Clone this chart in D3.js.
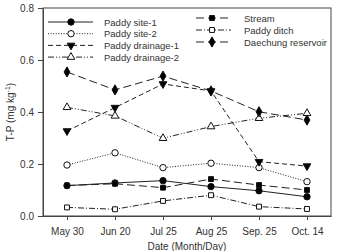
<!DOCTYPE html>
<html>
<head>
<meta charset="utf-8">
<script src="https://cdn.jsdelivr.net/npm/d3@7"></script>
<style>
  body { margin: 0; background: #fff; }
  svg { font-family: "Liberation Sans", Arial, sans-serif; }
</style>
</head>
<body>
<div id="chart"></div>
<script>
// data
var dates = ["May 30", "Jun 20", "Jul 25", "Aug 25", "Sep. 25", "Oct. 14"];
var yTicks = [0.0, 0.2, 0.4, 0.6, 0.8];

var paddySite1 = [0.117, 0.127, 0.136, 0.113, 0.097, 0.074];
var paddySite2 = [0.196, 0.243, 0.186, 0.203, 0.186, 0.132];
var paddyDrainage1 = [0.327, 0.417, 0.508, 0.481, 0.209, 0.192];
var paddyDrainage2 = [0.418, 0.385, 0.299, 0.344, 0.376, 0.395];
var stream = [0.117, 0.124, 0.109, 0.142, 0.119, 0.100];
var paddyDitch = [0.033, 0.026, 0.058, 0.080, 0.036, 0.027];
var daechung = [0.554, 0.485, 0.538, 0.481, 0.401, 0.369];

var W = 337, H = 251;
// plot box (note: "top" is reserved on window, so use plot* names)
var plotLeft = 43, plotRight = 331, plotTop = 8, plotBottom = 216;

var svg = d3.select("#chart").append("svg")
  .attr("width", W)
  .attr("height", H);

var x = d3.scalePoint().domain(dates).range([plotLeft, plotRight]).padding(0.5);
var y = d3.scaleLinear().domain([0, 0.8]).range([plotBottom, plotTop]);

// series styles
var series = [
  { name: "Paddy site-1", values: paddySite1, dash: null, sym: d3.symbolCircle, fill: "#000", rot: 0, size: 32 },
  { name: "Paddy site-2", values: paddySite2, dash: "1,1.6", sym: d3.symbolCircle, fill: "#fff", rot: 0, size: 32 },
  { name: "Paddy drainage-1", values: paddyDrainage1, dash: "5,3", sym: d3.symbolTriangle, fill: "#000", rot: 180, size: 26 },
  { name: "Paddy drainage-2", values: paddyDrainage2, dash: "6,2,1,2,1,2", sym: d3.symbolTriangle, fill: "#fff", rot: 0, size: 26 },
  { name: "Stream", values: stream, dash: "8,4", sym: d3.symbolSquare, fill: "#000", rot: 0, size: 24 },
  { name: "Paddy ditch", values: paddyDitch, dash: "6,2,1,2", sym: d3.symbolSquare, fill: "#fff", rot: 0, size: 24 },
  { name: "Daechung reservoir", values: daechung, dash: "8,4", sym: d3.symbolDiamond, fill: "#000", rot: 0, size: 30 }
];

// frame
svg.append("rect")
  .attr("x", plotLeft).attr("y", plotTop)
  .attr("width", plotRight - plotLeft).attr("height", plotBottom - plotTop)
  .style("fill", "none")
  .style("stroke", "#444")
  .style("stroke-width", "1px");

// axes
var yAxis = svg.append("g")
  .attr("transform", "translate(" + plotLeft + ",0)")
  .call(d3.axisLeft(y).tickValues(yTicks).tickFormat(d3.format(".1f")).tickSizeInner(5).tickSizeOuter(0).tickPadding(4));

var xAxis = svg.append("g")
  .attr("transform", "translate(0," + plotBottom + ")")
  .call(d3.axisBottom(x).tickSizeInner(4).tickSizeOuter(0).tickPadding(8));

[yAxis, xAxis].forEach(function(a) {
  a.select("path").style("stroke", "#444");
  a.selectAll(".tick line").style("stroke", "#444");
  a.selectAll(".tick text")
    .style("fill", "#333")
    .style("font-size", "10px")
    .style("font-family", "Liberation Sans, Arial, sans-serif");
});

// lines
var line = d3.line()
  .x(function(d, i) { return x(dates[i]); })
  .y(function(d) { return y(d); });

series.forEach(function(s) {
  svg.append("path")
    .datum(s.values)
    .attr("d", line)
    .style("fill", "none")
    .style("stroke", "#222")
    .style("stroke-width", "1px")
    .style("stroke-dasharray", s.dash);
});

function drawMarker(g, s, cx, cy) {
  g.append("path")
    .attr("d", d3.symbol().type(s.sym).size(s.size)())
    .attr("transform", "translate(" + cx + "," + cy + ") rotate(" + s.rot + ")")
    .style("fill", s.fill)
    .style("stroke", "#111")
    .style("stroke-width", "1px");
}

series.forEach(function(s) {
  s.values.forEach(function(v, i) {
    drawMarker(svg, s, x(dates[i]), y(v));
  });
});

// legend
var legCols = [
  { items: series.slice(0, 4), x1: 48, x2: 93, mx: 71, tx: 104, y0: 22, dy: 11.7 },
  { items: series.slice(4), x1: 196, x2: 231, mx: 212, tx: 244, y0: 18, dy: 12 }
];

legCols.forEach(function(c) {
  c.items.forEach(function(s, i) {
    var ly = c.y0 + i * c.dy;
    svg.append("line")
      .attr("x1", c.x1).attr("x2", c.x2)
      .attr("y1", ly).attr("y2", ly)
      .style("stroke", "#222")
      .style("stroke-width", "1px")
      .style("stroke-dasharray", s.dash);
    drawMarker(svg, s, c.mx, ly);
    svg.append("text")
      .attr("x", c.tx).attr("y", ly + 3.5)
      .text(s.name)
      .style("fill", "#333")
      .style("font-size", "9.5px");
  });
});

// axis titles
var yt = svg.append("text")
  .attr("transform", "translate(14," + ((plotTop + plotBottom) / 2) + ") rotate(-90)")
  .attr("text-anchor", "middle")
  .style("fill", "#333")
  .style("font-size", "10px");
yt.append("tspan").text("T-P (mg kg");
yt.append("tspan").attr("dy", -4).style("font-size", "7px").text("-1");
yt.append("tspan").attr("dy", 4).text(")");

svg.append("text")
  .attr("x", (plotLeft + plotRight) / 2)
  .attr("y", 250)
  .attr("text-anchor", "middle")
  .style("fill", "#333")
  .style("font-size", "10px")
  .text("Date (Month/Day)");
</script>
</body>
</html>
